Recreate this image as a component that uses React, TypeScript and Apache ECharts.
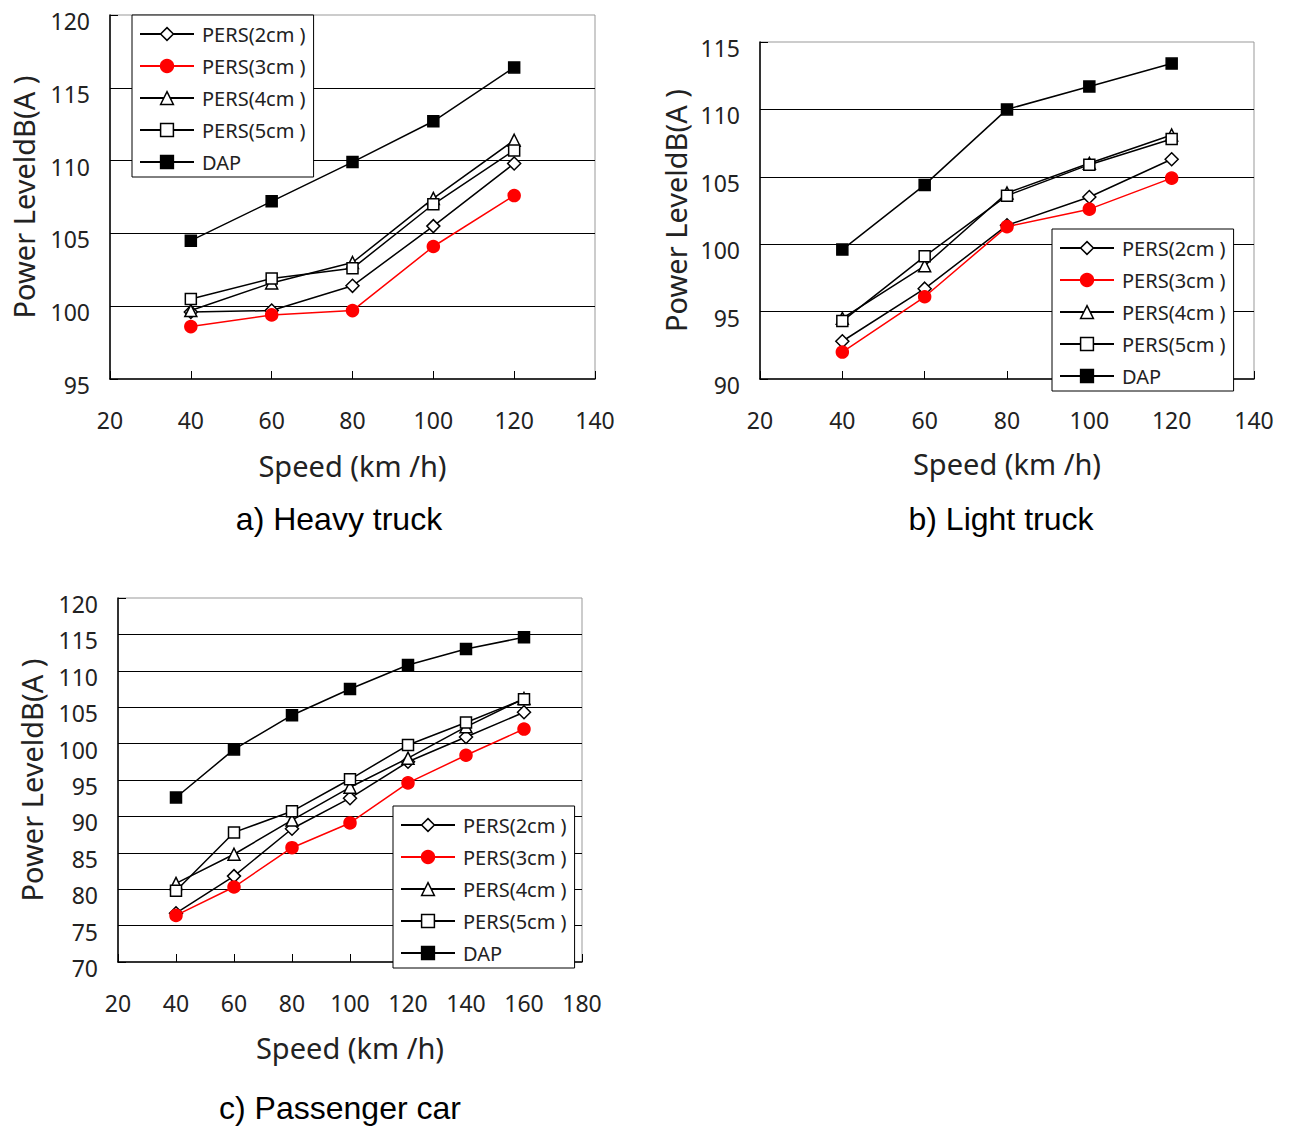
import React, { useEffect, useRef } from "react";
import * as echarts from "echarts";

// ---------- data ----------
const truckSpeeds = [40, 60, 80, 100, 120];
const carSpeeds = [40, 60, 80, 100, 120, 140, 160];

const seriesNames = ["PERS(2cm )", "PERS(3cm )", "PERS(4cm )", "PERS(5cm )", "DAP"];

const heavy2 = [99.6, 99.7, 101.4, 105.5, 109.8];
const heavy3 = [98.6, 99.4, 99.7, 104.1, 107.6];
const heavy4 = [99.7, 101.6, 103.0, 107.4, 111.4];
const heavy5 = [100.5, 101.9, 102.6, 107.0, 110.7];
const heavyDap = [104.5, 107.2, 109.9, 112.7, 116.4];

const light2 = [92.8, 96.7, 101.4, 103.5, 106.3];
const light3 = [92.0, 96.1, 101.3, 102.6, 104.9];
const light4 = [94.5, 98.4, 103.8, 106.0, 108.1];
const light5 = [94.3, 99.1, 103.6, 105.9, 107.8];
const lightDap = [99.6, 104.4, 110.0, 111.7, 113.4];

const car2 = [76.7, 81.8, 88.3, 92.5, 97.5, 100.9, 104.3];
const car3 = [76.4, 80.3, 85.7, 89.1, 94.6, 98.4, 102.0];
const car4 = [80.8, 84.8, 89.5, 94.0, 98.0, 102.3, 106.2];
const car5 = [79.8, 87.8, 90.7, 95.1, 99.8, 102.9, 106.1];
const carDap = [92.6, 99.2, 103.9, 107.5, 110.8, 113.0, 114.6];

const panelTitles = ["a) Heavy truck", "b) Light truck", "c) Passenger car"];
const xAxisName = "Speed (km /h)";
const yAxisName = "Power LeveldB(A )";

// ---------- styles ----------
const markStyles = [
  { symbol: "diamond", size: 13, fill: "#ffffff", stroke: "#000000" },
  { symbol: "circle", size: 12, fill: "#ff0000", stroke: "#ff0000" },
  { symbol: "triangle", size: 12, fill: "#ffffff", stroke: "#000000" },
  { symbol: "rect", size: 11, fill: "#ffffff", stroke: "#000000" },
  { symbol: "rect", size: 11, fill: "#000000", stroke: "#000000" },
];

const labelFont = "'Noto Sans', 'DejaVu Sans', sans-serif";

export default function App() {
  const ref = useRef<HTMLDivElement>(null);

  useEffect(() => {
    document.body.style.margin = "0";
    if (!ref.current) return;
    const chart = echarts.init(ref.current, null, { renderer: "svg" });

    const panels = [
      { xs: truckSpeeds, sets: [heavy2, heavy3, heavy4, heavy5, heavyDap], ymin: 95, ymax: 120, xmax: 140,
        grid: { left: 110, top: 15, width: 485, height: 364 }, legend: { left: 132, top: 15 },
        title: { x: 339, y: 519 }, yGap: 72, xGap: 72 },
      { xs: truckSpeeds, sets: [light2, light3, light4, light5, lightDap], ymin: 90, ymax: 115, xmax: 140,
        grid: { left: 760, top: 42, width: 494, height: 337 }, legend: { left: 1052, top: 229 },
        title: { x: 1001, y: 519 }, yGap: 70, xGap: 70 },
      { xs: carSpeeds, sets: [car2, car3, car4, car5, carDap], ymin: 70, ymax: 120, xmax: 180,
        grid: { left: 118, top: 598, width: 464, height: 364 }, legend: { left: 393, top: 806 },
        title: { x: 340, y: 1108 }, yGap: 72, xGap: 71 },
    ];

    const grids: any[] = [];
    const xAxes: any[] = [];
    const yAxes: any[] = [];
    const series: any[] = [];
    const legends: any[] = [];
    const graphics: any[] = [];

    panels.forEach((p, gi) => {
      grids.push({ ...p.grid, show: true, borderColor: "#999", borderWidth: 1, backgroundColor: "transparent" });
      xAxes.push({
        type: "value", gridIndex: gi, min: 20, max: p.xmax, interval: 20,
        name: xAxisName, nameLocation: "middle", nameGap: p.xGap,
        nameTextStyle: { fontFamily: labelFont, fontSize: 29, color: "#222" },
        axisLine: { show: true, onZero: false, lineStyle: { color: "#000", width: 1.5 } },
        axisTick: { show: true, inside: true, length: 8, lineStyle: { color: "#000" } },
        splitLine: { show: false },
        axisLabel: { margin: 29, fontFamily: labelFont, fontSize: 23, color: "#222" },
      });
      yAxes.push({
        type: "value", gridIndex: gi, min: p.ymin, max: p.ymax, interval: 5,
        name: yAxisName, nameLocation: "middle", nameGap: p.yGap, nameRotate: 90,
        nameTextStyle: { fontFamily: labelFont, fontSize: 29, color: "#222" },
        axisLine: { show: true, onZero: false, lineStyle: { color: "#000", width: 1.5 } },
        axisTick: { show: true, inside: true, length: 8, lineStyle: { color: "#000" } },
        splitLine: { show: true, showMinLine: false, showMaxLine: false, lineStyle: { color: "#000", width: 1 } },
        axisLabel: {
          margin: 20, color: "#222", formatter: "{v|{value}}",
          rich: { v: { fontFamily: labelFont, fontSize: 23, color: "#222", padding: [12, 0, 0, 0] } },
        },
      });
      p.sets.forEach((vals, si) => {
        const st = markStyles[si];
        series.push({
          type: "line", name: seriesNames[si], xAxisIndex: gi, yAxisIndex: gi,
          data: p.xs.map((x, i) => [x, vals[i]]),
          symbol: st.symbol, symbolSize: st.size, showAllSymbol: true,
          lineStyle: { color: st.stroke, width: 1.5 },
          itemStyle: { color: st.fill, borderColor: st.stroke, borderWidth: 1.5 },
          z: si === 1 ? 3 : 2,
        });
      });
      legends.push({
        ...p.legend, orient: "vertical", padding: [9, 8, 5, 7], itemGap: 12, itemWidth: 54, itemHeight: 16,
        borderColor: "#000", borderWidth: 1, borderRadius: 0, backgroundColor: "#fff",
        selectedMode: false, data: seriesNames,
        itemStyle: { borderWidth: 1.5 },
        textStyle: { fontFamily: labelFont, fontSize: 20, lineHeight: 16, color: "#222", padding: [4, 0, 0, 3] },
      });
      graphics.push({
        type: "text", x: p.title.x, y: p.title.y,
        style: { text: panelTitles[gi], fill: "#000", fontSize: 32,
          fontFamily: "'Liberation Sans', Arial, sans-serif", textAlign: "center", textVerticalAlign: "middle" },
      });
    });

    chart.setOption({
      animation: false,
      backgroundColor: "#fff",
      grid: grids,
      xAxis: xAxes,
      yAxis: yAxes,
      series,
      legend: legends,
      graphic: graphics,
    });

    return () => chart.dispose();
  }, []);

  return <div ref={ref} style={{ position: "absolute", left: 0, top: 0, width: 1290, height: 1127 }} />;
}
